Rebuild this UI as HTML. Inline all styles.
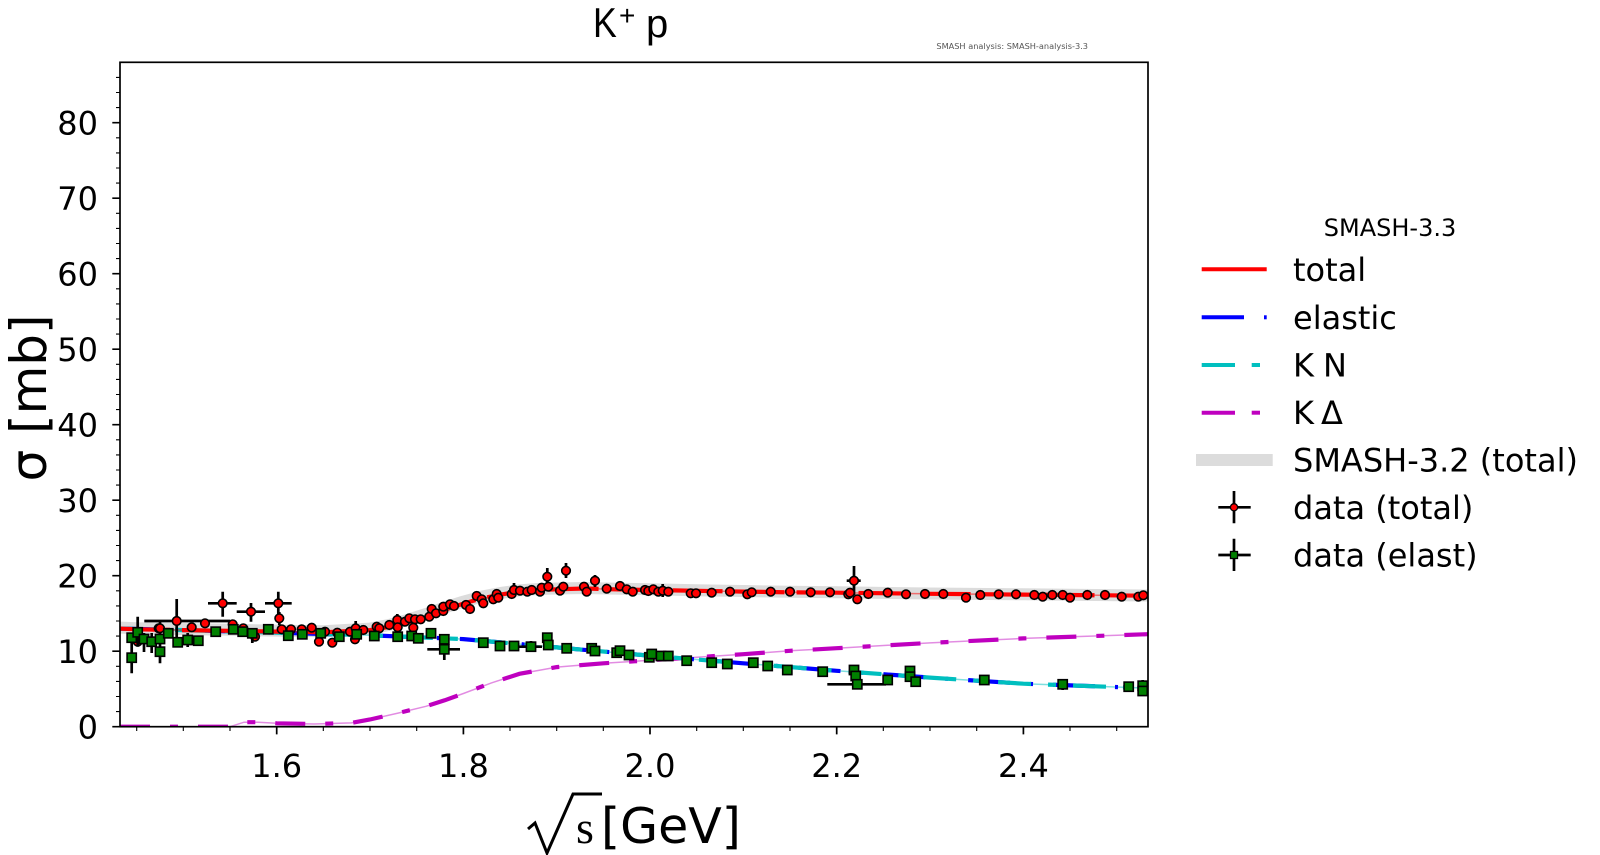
<!DOCTYPE html>
<html>
<head>
<meta charset="utf-8">
<style>
  html,body{margin:0;padding:0;background:#fff;}
  svg{display:block;}
  text{font-family:"DejaVu Sans","Liberation Sans",sans-serif;fill:#000;}
</style>
</head>
<body>
<svg width="1600" height="855" viewBox="0 0 1600 855" xmlns="http://www.w3.org/2000/svg">
  <defs>
    <clipPath id="ax"><rect x="120" y="62.3" width="1028" height="664.4"/></clipPath>
    <rect id="sq" x="-4.6" y="-4.6" width="9.2" height="9.2"/>
  </defs>
  <rect x="0" y="0" width="1600" height="855" fill="#fff"/>

  <!-- Title -->
  <text x="0" y="0" transform="translate(593,37) scale(0.85,1)" font-size="42" style="font-family:'Liberation Sans',sans-serif">K</text>
  <text x="619" y="25" font-size="28" style="font-family:'Liberation Sans',sans-serif">+</text>
  <text x="646" y="37" font-size="40" style="font-family:'Liberation Sans',sans-serif">p</text>
  <text x="1088" y="49" font-size="8.2" text-anchor="end" style="fill:#555">SMASH analysis: SMASH-analysis-3.3</text>

  <!-- plot content -->
  <g clip-path="url(#ax)">
    <polyline fill="none" stroke="#dcdcdc" stroke-width="12" stroke-linejoin="round"
      points="120,627.6 136.7,628.3 183.4,629.1 230,629.8 276.7,630.6 323.4,631.3 370,628.6 388.7,625 407.4,620 426,614 444.7,607.5 463.4,601.6 482,596.5 500.7,593 519.4,590.3 538,589 556.7,588.5 584.7,588 612.7,588.6 650,589.3 696.7,590.2 743.4,591 790,591.8 836.7,592.3 930,593.5 1023.4,594.3 1148,595.5"/>

    <polyline fill="none" stroke="#bf00bf" stroke-opacity="0.45" stroke-width="1.5"
      points="120,726.7 230,726.7 244,722.2 258,722.2 276.7,723.3 314,724 351.4,722.9 370,719.5 398,713.1 426,706.3 444.7,700.3 463.4,693.5 491.4,682.9 519.4,673.85 556.7,667.1 603.4,663.3 650,660.3 696.7,657.2 743.4,654.2 790,650.8 836.7,648.2 930,642.9 1023.4,638.4 1148,634.2"/>
    <polyline fill="none" stroke="#bf00bf" stroke-width="4.2" stroke-dasharray="30 20 8 20"
      points="120,726.7 230,726.7 244,722.2 258,722.2 276.7,723.3 314,724 351.4,722.9 370,719.5 398,713.1 426,706.3 444.7,700.3 463.4,693.5 491.4,682.9 519.4,673.85 556.7,667.1 603.4,663.3 650,660.3 696.7,657.2 743.4,654.2 790,650.8 836.7,648.2 930,642.9 1023.4,638.4 1148,634.2"/>

    <polyline fill="none" stroke="#00bfbf" stroke-opacity="0.5" stroke-width="1.5"
      points="120,628.6 183.4,630.1 276.7,632.7 370,635.3 463.4,639.1 556.7,647.4 650,655.7 743.4,663.3 836.7,670.8 930,677.6 1023.4,683.7 1148,688.2"/>
    <polyline fill="none" stroke="#0000ff" stroke-width="4.2" stroke-dasharray="42 20 3 20"
      points="120,628.6 183.4,630.1 276.7,632.7 370,635.3 463.4,639.1 556.7,647.4 650,655.7 743.4,663.3 836.7,670.8 930,677.6 1023.4,683.7 1148,688.2"/>
    <polyline fill="none" stroke="#00bfbf" stroke-width="4.2" stroke-dasharray="33 17 8 17" stroke-dashoffset="20"
      points="120,628.6 183.4,630.1 276.7,632.7 370,635.3 463.4,639.1 556.7,647.4 650,655.7 743.4,663.3 836.7,670.8 930,677.6 1023.4,683.7 1148,688.2"/>

    <polyline fill="none" stroke="#ff0000" stroke-opacity="0.5" stroke-width="1.5"
      points="120,628.6 136.7,629.3 183.4,630.1 230,630.8 276.7,631.6 323.4,632.3 370,630.1 388.7,627 407.4,622.5 426,616.5 444.7,609.7 463.4,603.6 482,598.3 500.7,594.6 519.4,591.6 538,590 556.7,589.3 584.7,588.5 612.7,589.3 650,590 696.7,590.8 743.4,591.6 790,592.3 836.7,592.7 930,593.8 1023.4,594.6 1148,595.7"/>
    <polyline fill="none" stroke="#ff0000" stroke-width="4.2" stroke-dasharray="50 12"
      points="120,628.6 136.7,629.3 183.4,630.1 230,630.8 276.7,631.6 323.4,632.3 370,630.1 388.7,627 407.4,622.5 426,616.5 444.7,609.7 463.4,603.6 482,598.3 500.7,594.6 519.4,591.6 538,590 556.7,589.3 584.7,588.5 612.7,589.3 650,590 696.7,590.8 743.4,591.6 790,592.3 836.7,592.7 930,593.8 1023.4,594.6 1148,595.7"/>

    <path fill="none" stroke="#000" stroke-width="2.7" d="M144.3,621H230 M176.7,599V643 M208,603.3H236.7 M222.7,591.7V616.7 M236.7,611.7H265 M251,603V621.7 M265,603.3H291.7 M278.3,591.7V616.7 M279.3,612V625 M355.7,621V640 M547.3,568V585 M566,563V578 M595,575V587 M514,583V597 M658,590.7H668 M662.7,584V597 M846.7,580.7H860.7 M854,566V595 M160,622V634 M397.3,614V626"/>
    <g fill="#ff0000" stroke="#000" stroke-width="1.6">
      <circle cx="137.7" cy="641.7" r="4.3"/><circle cx="158.7" cy="628.3" r="4.3"/>
      <circle cx="160" cy="628.3" r="4.3"/><circle cx="176.7" cy="621" r="4.3"/>
      <circle cx="191.7" cy="627.3" r="4.3"/><circle cx="205" cy="623.3" r="4.3"/>
      <circle cx="222.7" cy="603.3" r="4.3"/><circle cx="232.7" cy="624.3" r="4.3"/>
      <circle cx="243.3" cy="628.3" r="4.3"/><circle cx="251" cy="611.7" r="4.3"/>
      <circle cx="255" cy="636.7" r="4.3"/><circle cx="278.3" cy="603.3" r="4.3"/>
      <circle cx="279.3" cy="618.3" r="4.3"/><circle cx="281.7" cy="629.3" r="4.3"/>
      <circle cx="291" cy="629.3" r="4.3"/><circle cx="301.7" cy="629.3" r="4.3"/>
      <circle cx="311.7" cy="627.7" r="4.3"/><circle cx="319" cy="641.7" r="4.3"/>
      <circle cx="325" cy="631.7" r="4.3"/><circle cx="332.3" cy="642.7" r="4.3"/>
      <circle cx="337.3" cy="632.7" r="4.3"/><circle cx="350" cy="631.7" r="4.3"/>
      <circle cx="355.7" cy="628.3" r="4.3"/><circle cx="355" cy="639.3" r="4.3"/>
      <circle cx="363.3" cy="630" r="4.3"/><circle cx="376.7" cy="626.7" r="4.3"/>
      <circle cx="379.3" cy="628.3" r="4.3"/><circle cx="389.3" cy="625" r="4.3"/>
      <circle cx="397.3" cy="620" r="4.3"/><circle cx="397.7" cy="627.3" r="4.3"/>
      <circle cx="405" cy="621.7" r="4.3"/><circle cx="409.3" cy="618.3" r="4.3"/>
      <circle cx="413.3" cy="627.7" r="4.3"/><circle cx="415" cy="619.3" r="4.3"/>
      <circle cx="420.7" cy="619.3" r="4.3"/><circle cx="429.3" cy="616.7" r="4.3"/>
      <circle cx="431.7" cy="609" r="4.3"/><circle cx="436" cy="613.3" r="4.3"/>
      <circle cx="443.3" cy="611" r="4.3"/><circle cx="443.3" cy="606.7" r="4.3"/>
      <circle cx="450" cy="604.3" r="4.3"/><circle cx="454" cy="606" r="4.3"/>
      <circle cx="466" cy="605" r="4.3"/><circle cx="470" cy="609" r="4.3"/>
      <circle cx="476.7" cy="596" r="4.3"/><circle cx="481.7" cy="599.3" r="4.3"/>
      <circle cx="483.3" cy="603.3" r="4.3"/><circle cx="493.3" cy="599.3" r="4.3"/>
      <circle cx="496.7" cy="594" r="4.3"/><circle cx="498.3" cy="597.7" r="4.3"/>
      <circle cx="511.7" cy="594" r="4.3"/><circle cx="514" cy="590" r="4.3"/>
      <circle cx="520" cy="590.7" r="4.3"/><circle cx="527.3" cy="591.7" r="4.3"/>
      <circle cx="531.7" cy="590" r="4.3"/><circle cx="540" cy="591.7" r="4.3"/>
      <circle cx="541.7" cy="587.7" r="4.3"/><circle cx="547.3" cy="576.7" r="4.3"/>
      <circle cx="548.3" cy="586.7" r="4.3"/><circle cx="560" cy="590.7" r="4.3"/>
      <circle cx="563.3" cy="586.7" r="4.3"/><circle cx="566" cy="570.7" r="4.3"/>
      <circle cx="584" cy="586.7" r="4.3"/><circle cx="586.7" cy="591.7" r="4.3"/>
      <circle cx="595" cy="580.7" r="4.3"/><circle cx="606.7" cy="588.7" r="4.3"/>
      <circle cx="620" cy="586" r="4.3"/><circle cx="626.7" cy="589.3" r="4.3"/>
      <circle cx="632.7" cy="591.7" r="4.3"/><circle cx="645" cy="590" r="4.3"/>
      <circle cx="648.3" cy="591" r="4.3"/><circle cx="653.3" cy="589.3" r="4.3"/>
      <circle cx="658.3" cy="591.7" r="4.3"/><circle cx="662.7" cy="590.7" r="4.3"/>
      <circle cx="668.3" cy="591.7" r="4.3"/><circle cx="690.7" cy="593.3" r="4.3"/>
      <circle cx="696" cy="593.3" r="4.3"/><circle cx="711.7" cy="592.7" r="4.3"/>
      <circle cx="730" cy="591.7" r="4.3"/><circle cx="747.3" cy="594.3" r="4.3"/>
      <circle cx="751.7" cy="592.3" r="4.3"/><circle cx="770.7" cy="591.7" r="4.3"/>
      <circle cx="790" cy="591.7" r="4.3"/><circle cx="810.7" cy="592.3" r="4.3"/>
      <circle cx="830" cy="592.3" r="4.3"/><circle cx="848.3" cy="594.3" r="4.3"/>
      <circle cx="850" cy="592.7" r="4.3"/><circle cx="854" cy="580.7" r="4.3"/>
      <circle cx="857.3" cy="599.3" r="4.3"/><circle cx="868.3" cy="594" r="4.3"/>
      <circle cx="887.7" cy="592.7" r="4.3"/><circle cx="906" cy="594.3" r="4.3"/>
      <circle cx="925" cy="594" r="4.3"/><circle cx="943.3" cy="594" r="4.3"/>
      <circle cx="966" cy="597.7" r="4.3"/><circle cx="980.3" cy="595" r="4.3"/>
      <circle cx="998.7" cy="594.3" r="4.3"/><circle cx="1016" cy="594.3" r="4.3"/>
      <circle cx="1034.3" cy="595" r="4.3"/><circle cx="1042.7" cy="596.7" r="4.3"/>
      <circle cx="1052.3" cy="595" r="4.3"/><circle cx="1062.7" cy="595" r="4.3"/>
      <circle cx="1070" cy="597.7" r="4.3"/><circle cx="1087.3" cy="595" r="4.3"/>
      <circle cx="1105" cy="595" r="4.3"/><circle cx="1121.7" cy="596.7" r="4.3"/>
      <circle cx="1138.3" cy="596.7" r="4.3"/><circle cx="1143.3" cy="595.3" r="4.3"/>
    </g>

    <path fill="none" stroke="#000" stroke-width="2.7" d="M131.7,640V673.3 M137.7,616.7V646.7 M144,633V652 M151.7,633V653 M160,643V663.3 M187.7,633V647 M252.3,628V643 M427.3,649.3H460 M444.3,636.7V660 M517,646.7H542 M531,641V652 M547.3,633V645 M827.3,684.3H886 M910,666V682 M1142.7,680V696 M1062.7,679V690"/>
    <g fill="#008000" stroke="#000" stroke-width="1.6">
      <use href="#sq" x="131.7" y="657.7"/><use href="#sq" x="131.7" y="637.7"/>
      <use href="#sq" x="137.7" y="632.3"/><use href="#sq" x="144" y="639"/>
      <use href="#sq" x="151.7" y="641.7"/><use href="#sq" x="160" y="639"/>
      <use href="#sq" x="160" y="651.7"/><use href="#sq" x="168.3" y="633.3"/>
      <use href="#sq" x="177.7" y="642.3"/><use href="#sq" x="187.7" y="640"/>
      <use href="#sq" x="198.3" y="640.7"/><use href="#sq" x="215.7" y="631.7"/>
      <use href="#sq" x="233.3" y="629.3"/><use href="#sq" x="242.7" y="631.7"/>
      <use href="#sq" x="252.3" y="633.3"/><use href="#sq" x="268.3" y="629.3"/>
      <use href="#sq" x="288.3" y="635.7"/><use href="#sq" x="302.3" y="634.3"/>
      <use href="#sq" x="320.7" y="633.3"/><use href="#sq" x="339.3" y="636.7"/>
      <use href="#sq" x="356.7" y="634.3"/><use href="#sq" x="374.3" y="636"/>
      <use href="#sq" x="397.7" y="636.7"/><use href="#sq" x="411.7" y="636"/>
      <use href="#sq" x="418.3" y="638.3"/><use href="#sq" x="431" y="633.3"/>
      <use href="#sq" x="444.3" y="639.3"/><use href="#sq" x="444.3" y="649.3"/>
      <use href="#sq" x="483.3" y="642.7"/><use href="#sq" x="500" y="646"/>
      <use href="#sq" x="514" y="646"/><use href="#sq" x="531" y="646.7"/>
      <use href="#sq" x="547.3" y="637.7"/><use href="#sq" x="548.3" y="645"/>
      <use href="#sq" x="566.7" y="648.3"/><use href="#sq" x="591.7" y="648.3"/>
      <use href="#sq" x="595" y="651"/><use href="#sq" x="616.7" y="652.7"/>
      <use href="#sq" x="620" y="650.7"/><use href="#sq" x="629" y="655"/>
      <use href="#sq" x="649.3" y="657.3"/><use href="#sq" x="651.7" y="654"/>
      <use href="#sq" x="661" y="656"/><use href="#sq" x="668.3" y="656"/>
      <use href="#sq" x="686.7" y="660.7"/><use href="#sq" x="711.7" y="662.7"/>
      <use href="#sq" x="727.3" y="664"/><use href="#sq" x="753.3" y="662.7"/>
      <use href="#sq" x="767.7" y="666"/><use href="#sq" x="787.3" y="670"/>
      <use href="#sq" x="822.7" y="671.7"/><use href="#sq" x="854" y="670"/>
      <use href="#sq" x="855.7" y="676"/><use href="#sq" x="857.3" y="684.3"/>
      <use href="#sq" x="887.7" y="680"/><use href="#sq" x="910" y="671"/>
      <use href="#sq" x="910" y="676.7"/><use href="#sq" x="915.7" y="681.7"/>
      <use href="#sq" x="984.3" y="680"/><use href="#sq" x="1062.7" y="684.3"/>
      <use href="#sq" x="1128.7" y="686.7"/><use href="#sq" x="1142.7" y="685.7"/>
      <use href="#sq" x="1142.7" y="691"/>
    </g>
  </g>

  <rect x="120" y="62.3" width="1028" height="664.4" fill="none" stroke="#000" stroke-width="1.7"/>

  <path fill="none" stroke="#000" stroke-width="1.7" d="M112.3,726.7H120 M112.3,651.2H120 M112.3,575.7H120 M112.3,500.2H120 M112.3,424.7H120 M112.3,349.2H120 M112.3,273.7H120 M112.3,198.2H120 M112.3,122.7H120"/>
  <path fill="none" stroke="#000" stroke-width="1.1" d="M116,711.6H120 M116,696.5H120 M116,681.4H120 M116,666.3H120 M116,636.1H120 M116,621H120 M116,605.9H120 M116,590.8H120 M116,560.6H120 M116,545.5H120 M116,530.4H120 M116,515.3H120 M116,485.1H120 M116,470H120 M116,454.9H120 M116,439.8H120 M116,409.6H120 M116,394.5H120 M116,379.4H120 M116,364.3H120 M116,334.1H120 M116,319H120 M116,303.9H120 M116,288.8H120 M116,258.6H120 M116,243.5H120 M116,228.4H120 M116,213.3H120 M116,183.1H120 M116,168H120 M116,152.9H120 M116,137.8H120 M116,107.6H120 M116,92.5H120 M116,77.4H120"/>
  <g font-size="32" text-anchor="end">
    <text x="98" y="738.3">0</text>
    <text x="98" y="662.8">10</text>
    <text x="98" y="587.3">20</text>
    <text x="98" y="511.8">30</text>
    <text x="98" y="436.3">40</text>
    <text x="98" y="360.8">50</text>
    <text x="98" y="285.3">60</text>
    <text x="98" y="209.8">70</text>
    <text x="98" y="134.3">80</text>
  </g>

  <path fill="none" stroke="#000" stroke-width="1.7" d="M276.7,726.7V734.4 M463.4,726.7V734.4 M650,726.7V734.4 M836.7,726.7V734.4 M1023.4,726.7V734.4"/>
  <path fill="none" stroke="#000" stroke-width="1.1" d="M136.7,726.7V731 M183.3,726.7V731 M230,726.7V731 M323.3,726.7V731 M370,726.7V731 M416.7,726.7V731 M510,726.7V731 M556.7,726.7V731 M603.3,726.7V731 M696.7,726.7V731 M743.3,726.7V731 M790,726.7V731 M883.3,726.7V731 M930,726.7V731 M976.7,726.7V731 M1070,726.7V731 M1116.7,726.7V731"/>
  <g font-size="32" text-anchor="middle">
    <text x="276.7" y="777">1.6</text>
    <text x="463.4" y="777">1.8</text>
    <text x="650" y="777">2.0</text>
    <text x="836.7" y="777">2.2</text>
    <text x="1023.4" y="777">2.4</text>
  </g>

  <text x="0" y="0" font-size="50" text-anchor="middle" transform="translate(46,398) rotate(-90)">σ [mb]</text>
  <path d="M528,829 L535,823 L547,853 L573,794 L602,794" fill="none" stroke="#000" stroke-width="3"/>
  <text x="576" y="843" font-size="46" style="font-family:'Liberation Serif','DejaVu Serif',serif">s</text>
  <text x="601" y="843" font-size="49">[GeV]</text>

  <text x="1390" y="236" font-size="24" text-anchor="middle">SMASH-3.3</text>
  <line x1="1201.7" y1="269.3" x2="1266.7" y2="269.3" stroke="#ff0000" stroke-width="4"/>
  <line x1="1201.7" y1="317.3" x2="1244" y2="317.3" stroke="#0000ff" stroke-width="4"/>
  <line x1="1264" y1="317.3" x2="1266.7" y2="317.3" stroke="#0000ff" stroke-width="4"/>
  <line x1="1201.7" y1="365" x2="1235" y2="365" stroke="#00bfbf" stroke-width="4"/>
  <line x1="1251.7" y1="365" x2="1260" y2="365" stroke="#00bfbf" stroke-width="4"/>
  <line x1="1201.7" y1="412.7" x2="1235" y2="412.7" stroke="#bf00bf" stroke-width="4"/>
  <line x1="1251.7" y1="412.7" x2="1260" y2="412.7" stroke="#bf00bf" stroke-width="4"/>
  <rect x="1196" y="454" width="76.7" height="12" fill="#dcdcdc"/>
  <path d="M1218.3,507.3H1250.7 M1234,491V523.3 M1218.3,555H1250.7 M1234,538.7V571" stroke="#000" stroke-width="2.7" fill="none"/>
  <circle cx="1234" cy="507.3" r="3.6" fill="#ff0000" stroke="#000" stroke-width="1.3"/>
  <rect x="1230.5" y="551.5" width="7" height="7" fill="#008000" stroke="#000" stroke-width="1.3"/>
  <g font-size="32">
    <text x="1293" y="281">total</text>
    <text x="1293" y="329">elastic</text>
    <text x="1293" y="376.5">K</text><text x="1323" y="376.5">N</text>
    <text x="1293" y="424">K</text><text x="1321" y="424">Δ</text>
    <text x="1293" y="471.5">SMASH-3.2 (total)</text>
    <text x="1293" y="519">data (total)</text>
    <text x="1293" y="566.5">data (elast)</text>
  </g>
</svg>
</body>
</html>
